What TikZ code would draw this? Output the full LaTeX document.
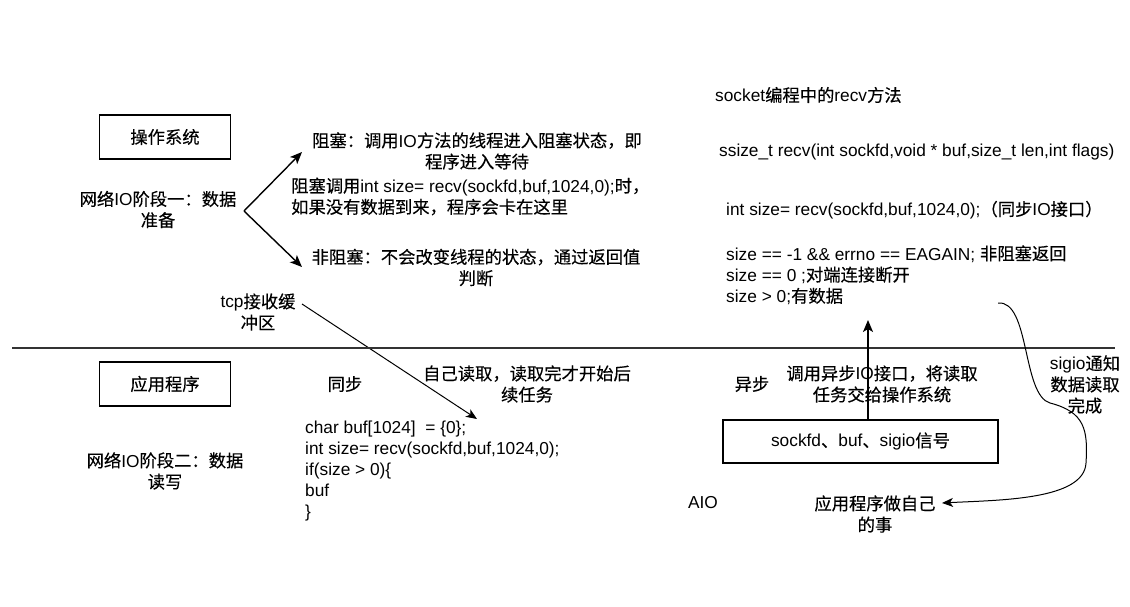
\documentclass[tikz,border=0pt]{standalone}
\usepackage{fontspec}
\setmainfont{Liberation Sans}
\newfontfamily\cjk[FakeBold=0.3]{Noto Sans CJK SC}
\usetikzlibrary{arrows.meta}
\XeTeXinterchartokenstate=1
\newcount\cjkc
\cjkc="4E00 \loop\XeTeXcharclass\cjkc=7 \advance\cjkc by 1 \ifnum\cjkc<"A000 \repeat
\cjkc="3000 \loop\XeTeXcharclass\cjkc=7 \advance\cjkc by 1 \ifnum\cjkc<"3040 \repeat
\cjkc="FF00 \loop\XeTeXcharclass\cjkc=7 \advance\cjkc by 1 \ifnum\cjkc<"FFF0 \repeat
\XeTeXinterchartoks 0 7 = {\cjk}
\XeTeXinterchartoks 4095 7 = {\cjk}
\XeTeXinterchartoks 7 0 = {\rmfamily}
\XeTeXinterchartoks 7 4095 = {\rmfamily}
\tikzset{
  box/.style={draw, line width=1.3pt, minimum width=131pt, minimum height=44pt, inner sep=0},
  txt/.style={inner sep=0, align=center},
  ltxt/.style={inner sep=0, align=left, anchor=west},
  arr/.style={line width=1.4pt, -{Stealth[length=12pt,width=10pt,inset=3pt]}},
  tarr/.style={line width=1pt, -{Stealth[length=11pt,width=9pt,inset=3pt]}},
  sep/.style={line width=1.6pt, draw=black!80},
}
\begin{document}
\begin{tikzpicture}[x=1pt,y=-1pt,font=\fontsize{17.3}{21.2}\selectfont]
\useasboundingbox[fill=white] (0,0) rectangle (1130,607);
% operating system side
\node[box] (os) at (165,137) {操作系统};
\node[txt] (p1) at (158,209.5) {网络IO阶段一：数据\\准备};
\coordinate (fork) at (244,211);
\coordinate (tipb) at (302,152);
\coordinate (tipn) at (302,267);
\node[txt] (blk) at (477,151) {阻塞：调用IO方法的线程进入阻塞状态，即\\程序进入等待};
\node[ltxt] (blkcall) at (291,196.5) {阻塞调用int size= recv(sockfd,buf,1024,0);时，\\如果没有数据到来，程序会卡在这里};
\node[txt] (nblk) at (476,267.5) {非阻塞：不会改变线程的状态，通过返回值\\判断};
\draw[arr] (fork) -- (tipb);
\draw[arr] (fork) -- (tipn);
\node[txt] (tcp) at (258,312) {tcp接收缓\\冲区};
\coordinate (tcps) at (302,304);
\coordinate (tcpt) at (477,419);
\draw[tarr] (tcps) -- (tcpt);
% separator
\coordinate (sl) at (12,348);
\coordinate (sr) at (1115,348);
\draw[sep] (sl) -- (sr);
% application side
\node[box] (app) at (165,384) {应用程序};
\node[txt] (p2) at (165,471) {网络IO阶段二：数据\\读写};
\node[txt] (sync) at (345,384) {同步};
\node[txt] (self) at (527,384) {自己读取，读取完才开始后\\续任务};
\node[ltxt] (code) at (305,471) {char buf[1024]\ \ = \{0\};\\int size= recv(sockfd,buf,1024,0);\\if(size > 0)\{\\buf\\\}};
% right side
\node[ltxt] (title) at (715,95) {socket编程中的recv方法};
\node[ltxt] (sig) at (719,152) {ssize\_t recv(int sockfd,void * buf,size\_t len,int flags)};
\node[ltxt] (isz) at (726,210) {int size= recv(sockfd,buf,1024,0);（同步IO接口）};
\node[ltxt] (ret) at (726,275) {size == -1 \&\& errno == EAGAIN; 非阻塞返回\\size == 0 ;对端连接断开\\size > 0;有数据};
\node[box, minimum width=275pt, minimum height=43pt] (sbox) at (860.5,441.5) {sockfd、buf、sigio信号};
\node[txt] (async) at (752,384) {异步};
\node[txt] (asy) at (882,384) {调用异步IO接口，将读取\\任务交给操作系统};
\coordinate (up) at (868,320);
\draw[arr] (sbox.north -| up) -- (up);
\node[txt] (aio) at (703,503) {AIO};
\node[txt] (own) at (875,514) {应用程序做自己\\的事};
\node[txt] (sigio) at (1085,384.5) {sigio通知\\数据读取\\完成};
\coordinate (cs) at (998,303);
\coordinate (ct) at (942,503);
\draw[tarr] (cs) .. controls (1030,300) and (1022,395) .. (1050,403)
  .. controls (1085,412) and (1088,430) .. (1086,463)
  .. controls (1084,500) and (1000,500) .. (ct);
\end{tikzpicture}
\end{document}
